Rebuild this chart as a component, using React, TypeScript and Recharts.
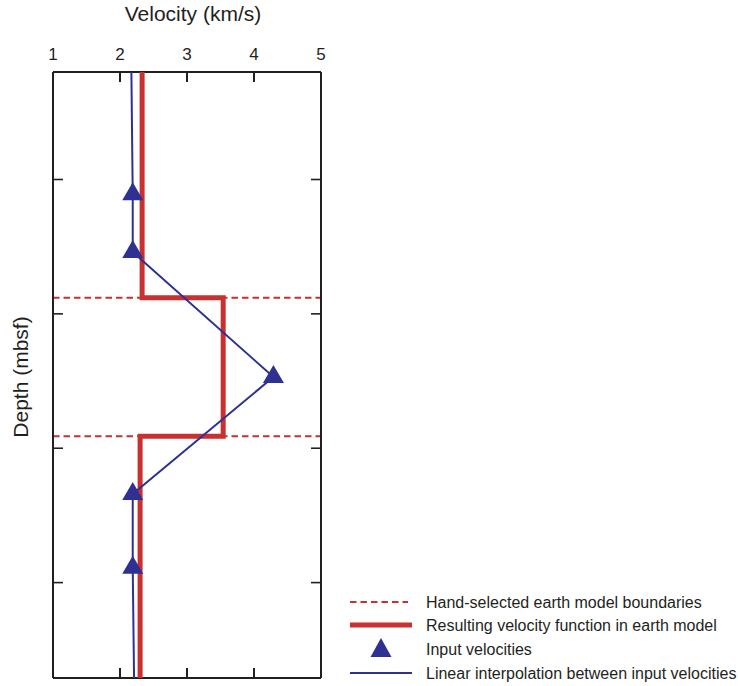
import { ScatterChart, Scatter, XAxis, YAxis, ReferenceLine } from "recharts";

const inputVelocity = [2.19, 2.19, 4.29, 2.19, 2.19];
const inputDepth = [111, 154, 247, 334, 389];

const interpVelocity = [2.17, 2.19, 2.19, 4.29, 2.19, 2.19, 2.21];
const interpDepth = [20, 111, 154, 247, 334, 389, 471];

const modelVelocity = [2.33, 2.33, 3.54, 3.54, 2.3, 2.3];
const modelDepth = [20, 188, 188, 291, 291, 471];

const boundaryDepths = [188, 291];

const velocityTicks = [1, 2, 3, 4, 5];
const innerVelocityTicks = [2, 3, 4];
const depthTicks = [100, 200, 300, 400];
const depthDomain = [20, 471];

const RED = "#c8312f";
const BLUE = "#2e3192";
const INK = "#231f20";
const TICK_LEN = 10;

const toPoints = (vs: number[], ds: number[]) => vs.map((v, i) => ({ v, d: ds[i] }));

const inputData = toPoints(inputVelocity, inputDepth);
const interpData = toPoints(interpVelocity, interpDepth);
const modelData = toPoints(modelVelocity, modelDepth);
// inward tick marks on the top and bottom edges of the frame
const topTickData = innerVelocityTicks.map((v) => ({ v, d: depthDomain[0] }));
const bottomTickData = innerVelocityTicks.map((v) => ({ v, d: depthDomain[1] }));

const NoDot = () => <g />;

const Triangle = (props: any) => {
  const { cx, cy } = props;
  return (
    <polygon
      points={`${cx},${cy - 12} ${cx - 10.5},${cy + 6} ${cx + 10.5},${cy + 6}`}
      fill={BLUE}
    />
  );
};

// drawn as thin filled rects rather than zero-width lines
const DownTick = (props: any) => (
  <rect x={props.cx - 1} y={props.cy} width={2} height={TICK_LEN} fill={INK} />
);
const UpTick = (props: any) => (
  <rect x={props.cx - 1} y={props.cy - TICK_LEN} width={2} height={TICK_LEN} fill={INK} />
);

const axisLine = { stroke: INK, strokeWidth: 2 };
const tickLine = { stroke: INK, strokeWidth: 1.6 };
const blank = () => "";

function LegendBox() {
  const rows = [
    "Hand-selected earth model boundaries",
    "Resulting velocity function in earth model",
    "Input velocities",
    "Linear interpolation between input velocities",
  ];
  const rowY = [602, 625, 649, 673];
  return (
    <svg width={400} height={100} style={{ position: "absolute", left: 338, top: 586 }}>
      <g transform="translate(-338,-586)">
        <line x1={350} x2={408} y1={rowY[0]} y2={rowY[0]} stroke={RED} strokeWidth={2} strokeDasharray="6.5 4" />
        <line x1={350} x2={412} y1={rowY[1]} y2={rowY[1]} stroke={RED} strokeWidth={5} />
        <polygon points={`381,${rowY[2] - 11} 370.5,${rowY[2] + 8} 391.5,${rowY[2] + 8}`} fill={BLUE} />
        <line x1={350} x2={412} y1={rowY[3]} y2={rowY[3]} stroke={BLUE} strokeWidth={2} />
        {rows.map((r, i) => (
          <text key={r} x={426} y={rowY[i] + 6} fontSize={16} fill={INK}>
            {r}
          </text>
        ))}
      </g>
    </svg>
  );
}

export default function App() {
  return (
    <div
      style={{
        position: "absolute",
        left: 0,
        top: 0,
        width: 738,
        height: 686,
        background: "#fff",
        fontFamily: "'Liberation Sans', Arial, sans-serif",
      }}
    >
      <ScatterChart width={738} height={686} margin={{ top: 42, right: 416, bottom: 7, left: 52 }}>
        <XAxis
          xAxisId="top"
          orientation="top"
          type="number"
          dataKey="v"
          domain={[1, 5]}
          allowDataOverflow
          ticks={velocityTicks}
          height={30}
          tickSize={6}
          tickMargin={6}
          tickLine={false}
          axisLine={axisLine}
          tick={{ fill: INK, fontSize: 17 }}
          label={{ value: "Velocity (km/s)", position: "top", offset: 21, dx: 6, fill: INK, fontSize: 21 }}
        />
        <XAxis
          xAxisId="bottom"
          orientation="bottom"
          type="number"
          domain={[1, 5]}
          allowDataOverflow
          ticks={velocityTicks}
          height={1}
          tickLine={false}
          tick={false}
          axisLine={axisLine}
        />
        <YAxis
          yAxisId="left"
          type="number"
          dataKey="d"
          domain={depthDomain}
          reversed
          allowDataOverflow
          ticks={depthTicks}
          width={1}
          tickSize={-TICK_LEN}
          tickLine={tickLine}
          axisLine={axisLine}
          tickFormatter={blank}
        />
        <YAxis
          yAxisId="right"
          orientation="right"
          type="number"
          domain={depthDomain}
          reversed
          allowDataOverflow
          ticks={depthTicks}
          width={1}
          tickSize={-TICK_LEN}
          tickLine={tickLine}
          axisLine={axisLine}
          tickFormatter={blank}
        />
        {boundaryDepths.map((d) => (
          <ReferenceLine
            key={d}
            xAxisId="top"
            yAxisId="left"
            y={d}
            stroke={RED}
            strokeWidth={2}
            strokeDasharray="6.5 4"
          />
        ))}
        <Scatter
          xAxisId="top"
          yAxisId="left"
          data={topTickData}
          fill={INK}
          shape={DownTick}
          isAnimationActive={false}
        />
        <Scatter
          xAxisId="top"
          yAxisId="left"
          data={bottomTickData}
          fill={INK}
          shape={UpTick}
          isAnimationActive={false}
        />
        <Scatter
          xAxisId="top"
          yAxisId="left"
          data={modelData}
          fill={RED}
          line={{ stroke: RED, strokeWidth: 5 }}
          shape={NoDot}
          isAnimationActive={false}
        />
        <Scatter
          xAxisId="top"
          yAxisId="left"
          data={interpData}
          fill={BLUE}
          line={{ stroke: BLUE, strokeWidth: 2 }}
          shape={NoDot}
          isAnimationActive={false}
        />
        <Scatter
          xAxisId="top"
          yAxisId="left"
          data={inputData}
          fill={BLUE}
          shape={Triangle}
          isAnimationActive={false}
        />
      </ScatterChart>
      <div
        style={{
          position: "absolute",
          left: 21,
          top: 377,
          transform: "translate(-50%, -50%) rotate(-90deg)",
          fontSize: 21,
          color: INK,
          whiteSpace: "nowrap",
        }}
      >
        Depth (mbsf)
      </div>
      <LegendBox />
    </div>
  );
}
